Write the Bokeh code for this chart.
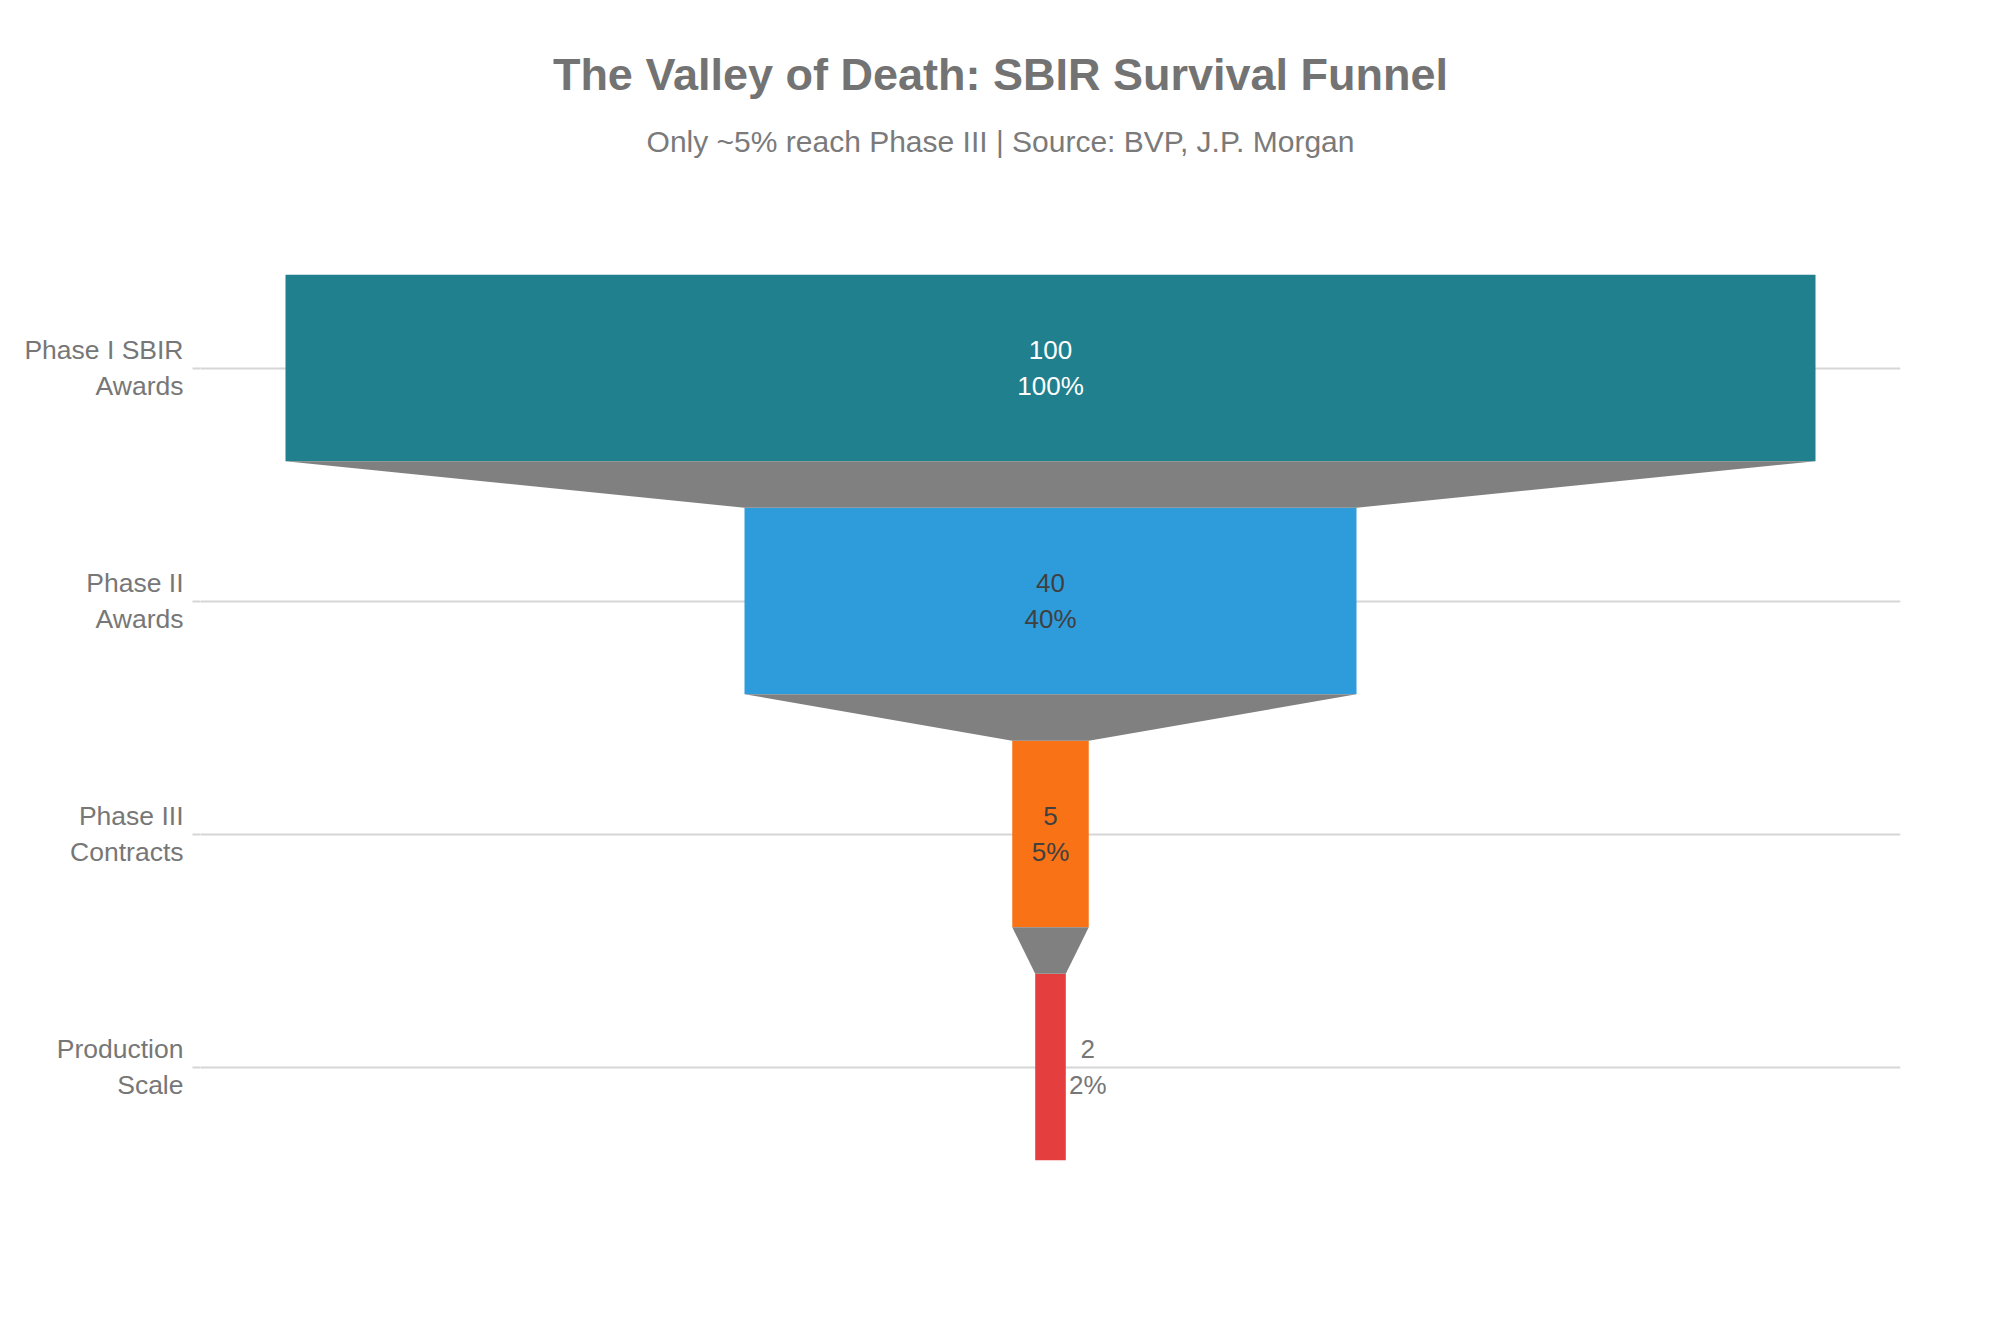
from bokeh.plotting import figure
from bokeh.models import Range1d, FixedTicker, Label, ColumnDataSource
from bokeh.core.properties import value
from bokeh.embed import file_html
from bokeh.resources import INLINE

# ---- data ----
stages = ["Phase I SBIR\nAwards", "Phase II\nAwards", "Phase III\nContracts", "Production\nScale"]
counts = [100, 40, 5, 2]
percents = [100, 40, 5, 2]
bar_colors = ["#21808D", "#2E9CDB", "#F97316", "#E53E3E"]
text_colors = ["#ffffff", "#404040", "#404040", "#777777"]
text_inside = [True, True, True, False]

title_text = "The Valley of Death: SBIR Survival Funnel"
subtitle_text = "Only ~5% reach Phase III | Source: BVP, J.P. Morgan"

FONT = "Liberation Sans"
W, H = 2000, 1333
BL, BR, BB = 200, 100, 150
BAND = 233.0           # pixel height of one category band
TOP_PX = 251.0         # space above first band (title area, inside frame)
frame_w = W - BL - BR
half = counts[0] / 2 * frame_w / 1530
top_extra = TOP_PX / BAND

p = figure(width=W, height=H, output_backend="svg", toolbar_location=None,
           x_range=Range1d(-half, half),
           y_range=Range1d(len(stages) - 0.5, -0.5 - top_extra),
           min_border_left=BL, min_border_right=BR, min_border_top=0, min_border_bottom=BB)
p.outline_line_color = None
p.background_fill_color = "white"
p.border_fill_color = "white"

idx = list(range(len(stages)))
src = ColumnDataSource(dict(
    y=idx,
    left=[-c / 2 for c in counts],
    right=[c / 2 for c in counts],
    color=bar_colors,
))
p.hbar(y="y", left="left", right="right", height=0.8, fill_color="color", line_color=None, source=src)

# connectors
xs, ys = [], []
for i in range(len(counts) - 1):
    a, b = counts[i] / 2, counts[i + 1] / 2
    xs.append([-a, a, b, -b])
    ys.append([i + 0.4, i + 0.4, i + 0.6, i + 0.6])
p.patches(xs=xs, ys=ys, fill_color="#808080", line_color=None)

# value labels
labels = [f"{c}\n{pc}%" for c, pc in zip(counts, percents)]
ins = [i for i in idx if text_inside[i]]
outs = [i for i in idx if not text_inside[i]]
p.text(x=[0 for i in ins], y=[i for i in ins], text=[labels[i] for i in ins],
       text_color=[text_colors[i] for i in ins], text_align="center", text_baseline="middle",
       text_font=value(FONT), text_font_size="26px", text_line_height=1.2)
p.text(x=[counts[i] / 2 for i in outs], y=[i for i in outs], text=[labels[i] for i in outs],
       text_color=[text_colors[i] for i in outs], text_align="center", text_baseline="middle",
       x_offset=22, text_font=value(FONT), text_font_size="26px", text_line_height=1.2)

# axes
p.xaxis.visible = False
p.xgrid.visible = False
ticker = FixedTicker(ticks=idx)
p.yaxis.ticker = ticker
p.ygrid.ticker = ticker
p.yaxis.major_label_overrides = {i: s for i, s in zip(idx, stages)}
p.yaxis.axis_line_color = None
p.yaxis.minor_tick_line_color = None
p.yaxis.major_tick_in = 0
p.yaxis.major_tick_out = 8
p.yaxis.major_tick_line_color = "#d6d6d6"
p.yaxis.major_tick_line_width = 2
p.yaxis.major_label_standoff = 9
p.yaxis.major_label_text_font = FONT
p.yaxis.major_label_text_font_size = "26.5px"
p.yaxis.major_label_text_color = "#777777"
p.ygrid.grid_line_color = "#d6d6d6"
p.ygrid.grid_line_width = 2

# titles, placed in the top area of the frame
def px_to_x(px):
    return -half + (px - BL) / frame_w * 2 * half

def px_to_y(py):
    return -0.5 - top_extra + py / BAND

p.add_layout(Label(x=px_to_x(W / 2), y=px_to_y(74),
                   text=title_text, text_align="center", text_baseline="middle",
                   text_font=FONT, text_font_size="45px", text_font_style="bold",
                   text_color="#737373"))
p.add_layout(Label(x=px_to_x(W / 2), y=px_to_y(141),
                   text=subtitle_text, text_align="center", text_baseline="middle",
                   text_font=FONT, text_font_size="30px", text_font_style="normal",
                   text_color="#7a7a7a"))

open("out.html", "w").write(file_html(p, INLINE))
